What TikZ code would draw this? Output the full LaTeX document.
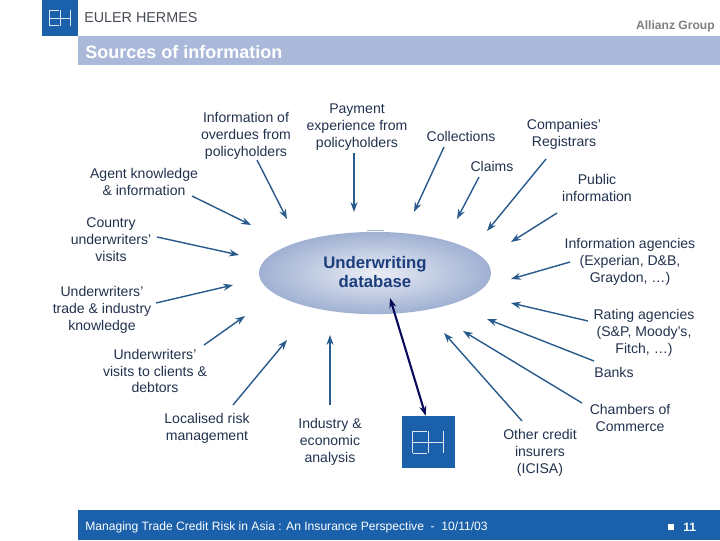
\documentclass[tikz,border=0pt]{standalone}
\usepackage{fontspec}
\setmainfont{Liberation Sans}
\definecolor{ehblue}{RGB}{26, 96, 170}
\definecolor{ehband}{RGB}{170, 184, 217}
\definecolor{ehtext}{RGB}{34, 50, 78}
\definecolor{ehgrey}{RGB}{70, 75, 85}
\definecolor{ehlink}{RGB}{40, 90, 140}
\definecolor{ehnavy}{RGB}{10, 10, 90}
\definecolor{ehdb}{RGB}{28, 62, 125}
\usetikzlibrary{arrows.meta, positioning, shapes.geometric, calc}

\tikzset{
  source/.style={align=center, inner sep=1pt, text=ehtext, font=\fontsize{10}{12}\selectfont},
  feed/.style={-{Stealth[length=7pt,width=5pt]}, line width=1pt, ehlink},
  ehmark/.pic={
    \draw[white!85!ehblue, line width=0.7pt]
      (-1,-1) -- (-1,1) (-1,-1) -- (-0.1,-1) (-1,1) -- (-0.1,1)
      (-1,0) -- (0.95,0) (0,-1) -- (0,1) (0.95,-1) -- (0.95,1);
  }
}

\begin{document}
\begin{tikzpicture}[x=0.025cm, y=-0.025cm]
  \useasboundingbox (0,0) rectangle (720,540);

  % header and footer
  \node[fill=ehblue, minimum size=25.6pt, inner sep=0pt] (logo) at (60,18) {};
  \pic[x=0.275cm, y=-0.19cm] at (logo) {ehmark};
  \node[anchor=west, inner sep=0pt, text=ehgrey, font=\fontsize{10.2}{14}\selectfont] (brand) at (84,18) {EULER HERMES};
  \node[anchor=east, inner sep=0pt, text=gray, font=\fontsize{8.6}{11}\bfseries\selectfont] (group) at (715,26) {Allianz Group};
  \fill[ehband] (78,36) rectangle (720,65);
  \node[anchor=west, inner sep=0pt, text=white, font=\fontsize{12.8}{15}\bfseries\selectfont] (title) at (85,52) {Sources of information};
  \fill[ehblue] (78,510) rectangle (720,540);
  \node[anchor=west, inner sep=0pt, text=white, font=\fontsize{8.6}{11}\selectfont] (footer) at (85,527) {Managing Trade Credit Risk in Asia : An Insurance Perspective~~-~~10/11/03};
  \node[fill=white, minimum size=3.6pt, inner sep=0pt] (bullet) at (671,527) {};
  \node[anchor=west, inner sep=0pt, text=white, font=\fontsize{8.6}{11}\bfseries\selectfont] (page) at (683,527) {11};

  % database
  \draw[ehband, line width=0.6pt] (367,230.5) -- (384,230.5);
  \node[ellipse, minimum width=165pt, minimum height=58.5pt, inner sep=0pt,
        inner color=white!75!ehband, outer color=ehband!92!ehlink] (db) at (375,273) {};
  \node[align=center, inner sep=0pt, text=ehdb, font=\fontsize{11.9}{14}\bfseries\selectfont] (dblabel) at (375,272) {Underwriting\\database};

  % sources
  \node[source] (overdues) at (246,136) {Information of\\overdues from\\policyholders};
  \node[source] (payment) at (357,127) {Payment\\experience from\\policyholders};
  \node[source] (collections) at (461,136) {Collections};
  \node[source] (registrars) at (564,134) {Companies'\\Registrars};
  \node[source] (claims) at (492,166) {Claims};
  \node[source] (public) at (597,188) {Public\\information};
  \node[source] (agencies) at (630,262) {Information agencies\\(Experian, D\&B,\\Graydon, …)};
  \node[source] (rating) at (644,333) {Rating agencies\\(S\&P, Moody's,\\Fitch, …)};
  \node[source] (banks) at (614,372) {Banks};
  \node[source] (chambers) at (630,418) {Chambers of\\Commerce};
  \node[source] (icisa) at (540,453) {Other credit\\insurers\\(ICISA)};
  \node[source] (industry) at (330,442) {Industry \&\\economic\\analysis};
  \node[source] (localised) at (207,428) {Localised risk\\management};
  \node[source] (clients) at (155,371) {Underwriters'\\visits to clients \&\\debtors};
  \node[source] (trade) at (102,310) {Underwriters'\\trade \& industry\\knowledge};
  \node[source] (country) at (111,240) {Country\\underwriters'\\visits};
  \node[source] (agent) at (144,182) {Agent knowledge\\\& information};

  % EH box
  \node[fill=ehblue, minimum width=37.7pt, minimum height=37pt, inner sep=0pt] (ehbox) at (428.5,442) {};
  \pic[x=0.4cm, y=-0.275cm] at (ehbox) {ehmark};

  % arrow tips around the database
  \coordinate (overduestip) at (287,219);
  \coordinate (paymenttip) at (354,212);
  \coordinate (collectionstip) at (414,212);
  \coordinate (claimstip) at (457,219);
  \coordinate (registrarstip) at (487,231);
  \coordinate (publictip) at (511,242);
  \coordinate (agenciestip) at (511,279);
  \coordinate (ratingtip) at (511,303);
  \coordinate (bankstip) at (487,319);
  \coordinate (chamberstip) at (463,331);
  \coordinate (icisatip) at (444,333);
  \coordinate (industrytip) at (330,335);
  \coordinate (localisedtip) at (287,340);
  \coordinate (clientstip) at (245,316);
  \coordinate (tradetip) at (233,285);
  \coordinate (countrytip) at (239,255);
  \coordinate (agenttip) at (251,225);
  \coordinate (dbtip) at (390,298);

  \draw[feed] ([shift={(11,24)}]overdues.center) -- (overduestip);
  \draw[feed] ([shift={(-3,26)}]payment.center) -- (paymenttip);
  \draw[feed] ([shift={(-17,11)}]collections.center) -- (collectionstip);
  \draw[feed] ([shift={(-13,11)}]claims.center) -- (claimstip);
  \draw[feed] ([shift={(-18,25)}]registrars.center) -- (registrarstip);
  \draw[feed] ([shift={(-40,25)}]public.center) -- (publictip);
  \draw[feed] ([shift={(-60,0)}]agencies.center) -- (agenciestip);
  \draw[feed] ([shift={(-56,-12)}]rating.center) -- (ratingtip);
  \draw[feed] ([shift={(-20,-11)}]banks.center) -- (bankstip);
  \draw[feed] ([shift={(-48,-15)}]chambers.center) -- (chamberstip);
  \draw[feed] ([shift={(-18,-32)}]icisa.center) -- (icisatip);
  \draw[feed] ([shift={(0,-37)}]industry.center) -- (industrytip);
  \draw[feed] ([shift={(26,-23)}]localised.center) -- (localisedtip);
  \draw[feed] ([shift={(49,-26)}]clients.center) -- (clientstip);
  \draw[feed] ([shift={(54,-7)}]trade.center) -- (tradetip);
  \draw[feed] ([shift={(46,-3)}]country.center) -- (countrytip);
  \draw[feed] ([shift={(48,14)}]agent.center) -- (agenttip);
  \draw[{Stealth[length=7pt,width=5pt]}-{Stealth[length=7pt,width=5pt]}, line width=1.5pt, ehnavy] (dbtip) -- ([xshift=-2]ehbox.north);
\end{tikzpicture}
\end{document}
